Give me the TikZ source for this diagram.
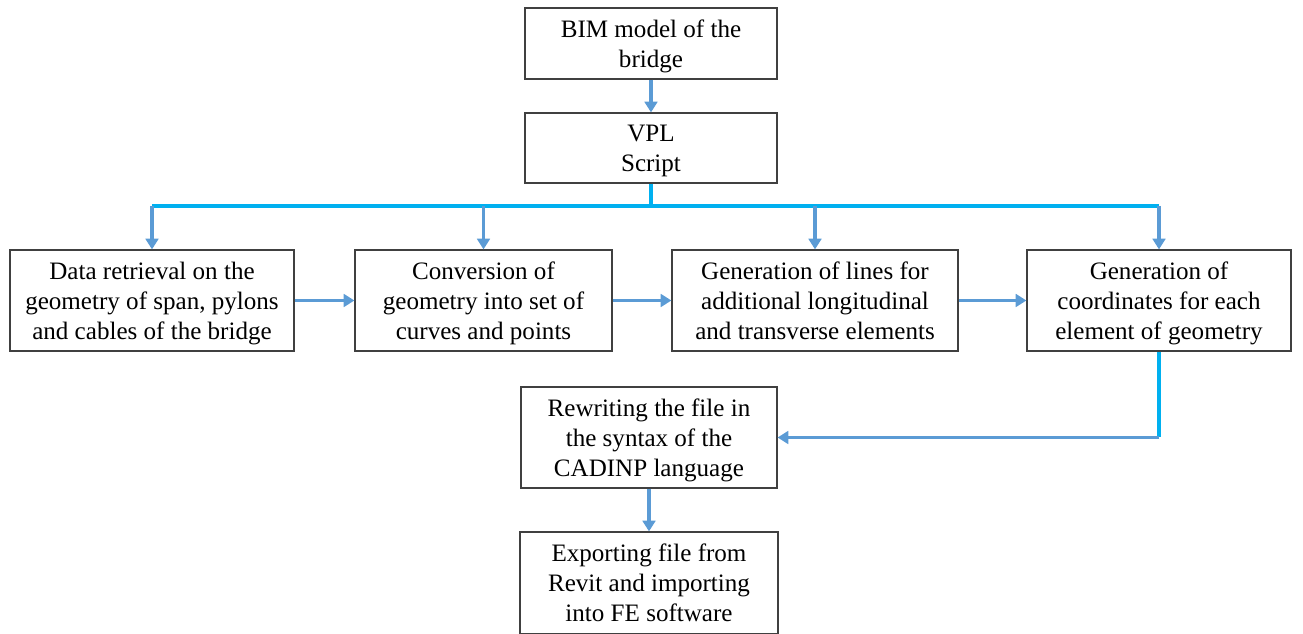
\documentclass[tikz,border=0pt]{standalone}
\usepackage{fontspec}
\setmainfont{Liberation Serif}
\usetikzlibrary{arrows.meta}
\definecolor{arrblue}{HTML}{5B9BD5}
\definecolor{buscyan}{HTML}{00B0F0}
\definecolor{boxline}{HTML}{404040}
\begin{document}
\begin{tikzpicture}[x=0.75pt,y=-0.75pt,
  box/.style={draw=boxline, line width=0.9pt, fill=white, align=center, inner sep=2pt,
    text depth=0pt, font=\fontsize{18.8}{22.6}\selectfont},
  arr/.style={draw=arrblue, line width=2.8pt, -{Triangle[length=8pt,width=9.5pt]}},
  bus/.style={draw=buscyan, line width=2.8pt},
  lnk/.style={draw=arrblue, line width=2.8pt}]
\useasboundingbox (0,0) rectangle (1303,634);
\node[box, minimum width=189pt, minimum height=53.25pt] (bim) at (651,43.5) {BIM model of the\\bridge};
\node[box, minimum width=189pt, minimum height=52.5pt] (vpl) at (651,148) {VPL\\Script};
\node[box, minimum width=213pt, minimum height=75.75pt] (b1) at (152,300.5) {Data retrieval on the\\geometry of span, pylons\\and cables of the bridge};
\node[box, minimum width=192.75pt, minimum height=75.75pt] (b2) at (483.5,300.5) {Conversion of\\geometry into set of\\curves and points};
\node[box, minimum width=214.5pt, minimum height=75.75pt] (b3) at (815,300.5) {Generation of lines for\\additional longitudinal\\and transverse elements};
\node[box, minimum width=198pt, minimum height=75.75pt] (b4) at (1159,300.5) {Generation of\\coordinates for each\\element of geometry};
\node[box, minimum width=192pt, minimum height=75.75pt] (rw) at (649,437.5) {Rewriting the file in\\the syntax of the\\CADINP language};
\node[box, minimum width=193.5pt, minimum height=76.5pt] (ex) at (649,583) {Exporting file from\\Revit and importing\\into FE software};
\coordinate (j) at (651,206);
\draw[arr] (bim.south) -- (vpl.north);
\draw[bus] (vpl.south) -- (j);
\draw[bus] (j -| b1.north) -- (j -| b4.north);
\foreach \b in {b1,b2,b3,b4} \draw[arr] (j -| \b.north) -- (\b.north);
\draw[arr] (b1.east) -- (b2.west);
\draw[arr] (b2.east) -- (b3.west);
\draw[arr] (b3.east) -- (b4.west);
\coordinate (corner) at (b4.south |- rw.east);
\draw[bus] (b4.south) -- (corner);
\draw[arr] (corner) -- (rw.east);
\draw[arr] (rw.south) -- (ex.north);
\end{tikzpicture}
\end{document}
